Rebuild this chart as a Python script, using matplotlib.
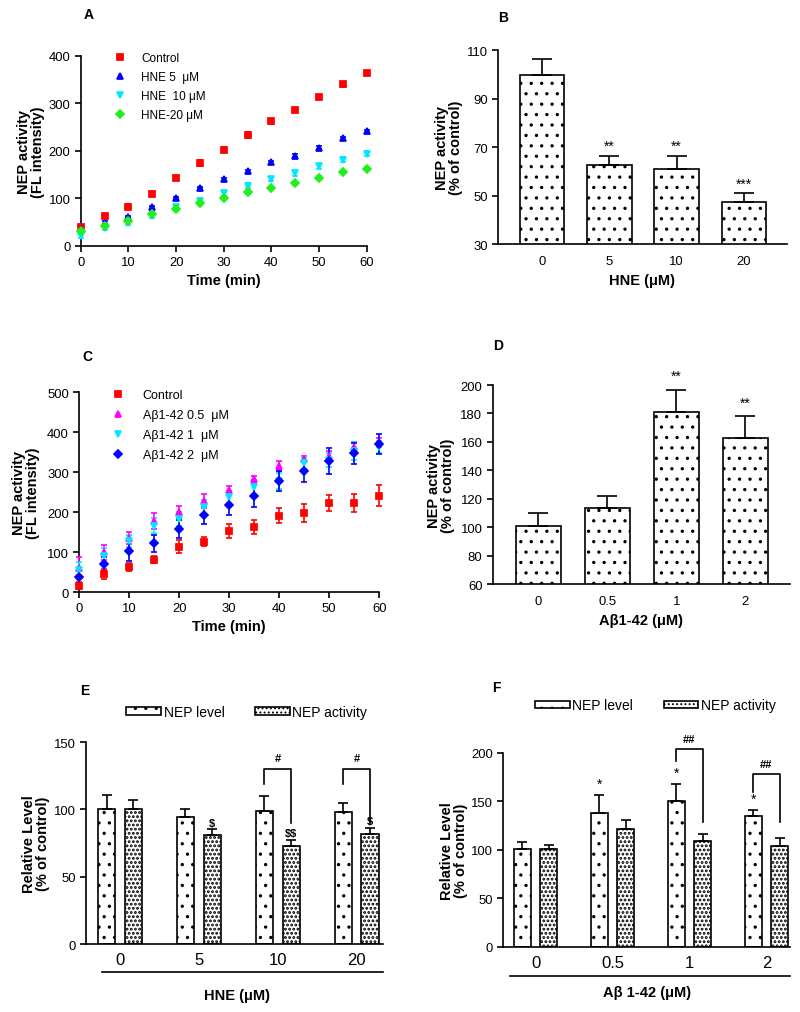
import numpy as np
import matplotlib
matplotlib.use("Agg")
import matplotlib.pyplot as plt
from matplotlib.lines import Line2D
from matplotlib.patches import Patch

# the figure is drawn at 125 dpi so that the dotted hatches get the right spacing;
# every size below is given as if at 100 dpi and scaled by K
DPI = 125
K = 100 / DPI

plt.rcParams['font.family'] = ['Liberation Sans', 'DejaVu Sans']
plt.rcParams['hatch.linewidth'] = 0.7
plt.rcParams['axes.linewidth'] = 1.2 * K
plt.rcParams['xtick.major.width'] = 1.2 * K
plt.rcParams['ytick.major.width'] = 1.2 * K
plt.rcParams['xtick.major.size'] = 4 * K
plt.rcParams['ytick.major.size'] = 4 * K
plt.rcParams['xtick.major.pad'] = 3.5 * K
plt.rcParams['ytick.major.pad'] = 3.5 * K

# ---- panel A: NEP activity time course with HNE
time = [0, 5, 10, 15, 20, 25, 30, 35, 40, 45, 50, 55, 60]
a_control = [39, 63, 83, 109, 143, 175, 203, 233, 262, 287, 314, 340, 365]
a_control_err = [6, 5, 5, 4, 4, 6, 6, 6, 5, 4, 4, 5, 4]
a_hne5 = [35, 49, 61, 81, 101, 122, 140, 157, 176, 190, 207, 227, 241]
a_hne5_err = [3, 3, 3, 3, 3, 3, 3, 3, 3, 3, 3, 3, 3]
a_hne10 = [21, 37, 48, 63, 81, 95, 111, 127, 141, 153, 168, 182, 194]
a_hne10_err = [4, 4, 4, 4, 4, 5, 5, 5, 5, 5, 5, 5, 5]
a_hne20 = [32, 42, 53, 68, 78, 90, 100, 113, 123, 132, 144, 155, 163]
a_hne20_err = [3, 3, 3, 3, 3, 3, 3, 3, 3, 3, 3, 3, 3]
a_labels = ['Control', 'HNE 5  μM', 'HNE  10 μM', 'HNE-20 μM']

# ---- panel B
hne_doses = ['0', '5', '10', '20']
b_activity = [99.7, 62.5, 60.8, 47.2]
b_err = [6.5, 3.8, 5.6, 3.8]
b_sig = ['', '**', '**', '***']

# ---- panel C: NEP activity time course with Abeta
c_control = [16, 45, 62, 81, 113, 126, 153, 163, 191, 198, 222, 222, 241]
c_control_err = [8, 12, 10, 8, 16, 12, 18, 17, 19, 23, 20, 23, 27]
c_ab05 = [60, 99, 135, 177, 199, 228, 255, 283, 315, 332, 341, 362, 374]
c_ab05_err = [27, 19, 16, 20, 17, 17, 10, 8, 12, 8, 12, 12, 12]
c_ab1 = [55, 91, 128, 166, 182, 212, 237, 262, 278, 322, 330, 353, 363]
c_ab1_err = [20, 18, 15, 18, 18, 17, 15, 18, 20, 15, 18, 22, 15]
c_ab2 = [38, 70, 103, 122, 157, 193, 218, 241, 277, 302, 328, 347, 370]
c_ab2_err = [17, 17, 25, 21, 23, 23, 25, 28, 25, 27, 32, 26, 26]
c_labels = ['Control', 'Aβ1-42 0.5  μM', 'Aβ1-42 1  μM', 'Aβ1-42 2  μM']

# ---- panel D
ab_doses = ['0', '0.5', '1', '2']
d_activity = [100.6, 113.5, 180.8, 163.0]
d_err = [9.4, 8.5, 15.7, 15.0]
d_sig = ['', '', '**', '**']

# ---- panel E
e_level = [100.4, 94, 99, 98]
e_level_err = [10.6, 6, 11, 7]
e_act = [100, 80.6, 72.6, 81.8]
e_act_err = [7, 4.9, 5, 4.5]
e_act_sig = ['', '\\$', '\\$\\$', '\\$']
e_bracket_group = [2, 3]
e_bracket_top = [130, 130]
e_bracket_left = [119, 119]
e_bracket_right = [90, 90]
e_bracket_sig = ['#', '#']

# ---- panel F
f_level = [101, 138, 150, 135.5]
f_level_err = [7, 19, 18, 5.5]
f_act = [101, 122, 109, 104]
f_act_err = [4, 9, 7, 8]
f_level_sig = ['', '*', '*', '*']
f_bracket_group = [2, 3]
f_bracket_top = [204, 178]
f_bracket_left = [192, 160]
f_bracket_right = [129, 129]
f_bracket_sig = ['##', '##']

TICK_FS = 9.5 * K
LAB_FS = 10.5 * K
LW = 1.2 * K
DENSE = '.....'

fig = plt.figure(figsize=(800 / DPI, 1013 / DPI), dpi=DPI)


def style_axes(ax):
    ax.spines['top'].set_visible(False)
    ax.spines['right'].set_visible(False)
    ax.tick_params(direction='out', labelsize=TICK_FS)


def panel_label(ax, s, x, y):
    ax.text(x, y, s, transform=ax.transAxes, fontsize=10 * K, fontweight='bold',
            ha='left', va='center')


def time_course(ax, series, colors, markers, labels, ylim, yticks):
    handles = []
    for (vals, err), c, m, lab in zip(series, colors, markers, labels):
        ax.errorbar(time, vals, yerr=err, fmt=m, color=c, ecolor=c, ms=4 * K,
                    capsize=2 * K, elinewidth=LW, capthick=LW, clip_on=False, zorder=3)
        handles.append(Line2D([], [], ls='none', marker=m, color=c, ms=4 * K))
    ax.set_xlim(0, 60)
    ax.set_ylim(*ylim)
    ax.set_xticks(range(0, 61, 10))
    ax.set_yticks(yticks)
    ax.set_xlabel('Time (min)', fontsize=LAB_FS, fontweight='bold', labelpad=3 * K)
    ax.set_ylabel('NEP activity\n(FL intensity)', fontsize=LAB_FS, fontweight='bold',
                  linespacing=1.0)
    return handles


def bar_panel(ax, vals, err, sig, ticks, ylim, yticks, xlabel, sig_offset):
    x = np.arange(len(vals))
    ax.bar(x, vals, width=0.66, color='white', edgecolor='black', lw=LW, hatch='..')
    ax.errorbar(x, vals, yerr=[np.zeros(len(err)), err], fmt='none', ecolor='black',
                elinewidth=LW, capsize=7.5 * K, capthick=LW)
    for xi, v, e, s in zip(x, vals, err, sig):
        if s:
            ax.annotate(s, (xi, v + e), xytext=(0, sig_offset * K), textcoords='offset points',
                        ha='center', va='bottom', fontsize=10 * K, annotation_clip=False)
    ax.set_xticks(x)
    ax.set_xticklabels(ticks)
    ax.set_ylim(*ylim)
    ax.set_yticks(yticks)
    ax.set_xlim(-0.66, 3.64)
    ax.tick_params(axis='x', length=0, pad=8 * K)
    ax.set_xlabel(xlabel, fontsize=LAB_FS, fontweight='bold', labelpad=4 * K)
    ax.set_ylabel('NEP activity\n(% of control)', fontsize=LAB_FS, fontweight='bold',
                  linespacing=1.0)


def group_panel(ax, level, level_err, act, act_err, ticks, ylim, yticks):
    x = np.arange(len(level))
    off, w = 0.17, 0.22
    ax.bar(x - off, level, width=w, color='white', edgecolor='black', lw=LW, hatch='..')
    with plt.rc_context({'hatch.linewidth': 1.1}):
        ax.bar(x + off, act, width=w, color='white', edgecolor='black', lw=LW, hatch=DENSE)
        act_patch = Patch(facecolor='white', edgecolor='black', lw=LW, hatch=DENSE,
                          label='NEP activity')
    ax.errorbar(x - off, level, yerr=[np.zeros(4), level_err], fmt='none', ecolor='black',
                elinewidth=LW, capsize=3.5 * K, capthick=LW)
    ax.errorbar(x + off, act, yerr=[np.zeros(4), act_err], fmt='none', ecolor='black',
                elinewidth=LW, capsize=3.5 * K, capthick=LW)
    ax.set_xticks(x)
    ax.set_xticklabels(ticks, fontsize=12 * K)
    ax.tick_params(axis='x', length=0, pad=6 * K)
    ax.set_ylim(*ylim)
    ax.set_yticks(yticks)
    ax.set_ylabel('Relative Level\n(% of control)', fontsize=LAB_FS, fontweight='bold',
                  linespacing=1.0)
    handles = [Patch(facecolor='white', edgecolor='black', lw=LW, hatch='..', label='NEP level'),
               act_patch]
    return x, off, handles


def brackets(ax, x, off, groups, top, left, right, sig):
    for g, t, l, r, s in zip(groups, top, left, right, sig):
        ax.plot([x[g] - off, x[g] - off, x[g] + off, x[g] + off], [l, t, t, r],
                color='black', lw=LW, clip_on=False)
        ax.annotate(s, (x[g], t), xytext=(0, 4 * K), textcoords='offset points',
                    ha='center', va='bottom', fontsize=8 * K, fontweight='bold',
                    annotation_clip=False)


# ---- A
axA = fig.add_axes([0.101, 0.7562, 0.3575, 0.1876])
style_axes(axA)
hA = time_course(axA,
                 [(a_control, a_control_err), (a_hne5, a_hne5_err),
                  (a_hne10, a_hne10_err), (a_hne20, a_hne20_err)],
                 ['#ff0000', '#0000ff', '#00e8ff', '#22ee22'], ['s', '^', 'v', 'D'],
                 a_labels, (0, 400), range(0, 401, 100))
axA.yaxis.set_label_coords(-0.126, 0.5)
axA.legend(hA, a_labels, loc='upper left', bbox_to_anchor=(0.08, 1.045), frameon=False,
           fontsize=8.5 * K, handletextpad=0.8, labelspacing=0.58, borderaxespad=0)
panel_label(axA, 'A', 0.01, 1.22)

# ---- B
axB = fig.add_axes([0.6225, 0.7581, 0.361, 0.1915])
style_axes(axB)
bar_panel(axB, b_activity, b_err, b_sig, hne_doses, (30, 110), range(30, 111, 20),
          'HNE (μM)', 2)
axB.yaxis.set_label_coords(-0.121, 0.5)
panel_label(axB, 'B', 0.0, 1.17)

# ---- C
axC = fig.add_axes([0.099, 0.4146, 0.375, 0.1974])
style_axes(axC)
hC = time_course(axC,
                 [(c_control, c_control_err), (c_ab05, c_ab05_err),
                  (c_ab1, c_ab1_err), (c_ab2, c_ab2_err)],
                 ['#ff0000', '#ff00ff', '#00e8ff', '#0000ff'], ['s', '^', 'v', 'D'],
                 c_labels, (0, 500), range(0, 501, 100))
axC.yaxis.set_label_coords(-0.13, 0.5)
axC.legend(hC, c_labels, loc='upper left', bbox_to_anchor=(0.07, 1.04), frameon=False,
           fontsize=9 * K, handletextpad=1.0, labelspacing=0.65, borderaxespad=0)
panel_label(axC, 'C', 0.01, 1.18)

# ---- D
axD = fig.add_axes([0.616, 0.4225, 0.371, 0.1964])
style_axes(axD)
bar_panel(axD, d_activity, d_err, d_sig, ab_doses, (60, 200), range(60, 201, 20),
          'Aβ1-42 (μM)', 5)
axD.yaxis.set_label_coords(-0.128, 0.5)
panel_label(axD, 'D', 0.0, 1.2)

# ---- E
axE = fig.add_axes([0.1075, 0.0671, 0.371, 0.1994])
style_axes(axE)
xE, offE, hE = group_panel(axE, e_level, e_level_err, e_act, e_act_err, hne_doses,
                           (0, 150), range(0, 151, 50))
axE.set_xlim(-0.43, 3.33)
for xi, v, e, s in zip(xE, e_act, e_act_err, e_act_sig):
    if s:
        axE.annotate(s, (xi + offE, v + e), xytext=(0, 1 * K), textcoords='offset points',
                     ha='center', va='bottom', fontsize=8 * K, fontweight='bold')
brackets(axE, xE, offE, e_bracket_group, e_bracket_top, e_bracket_left, e_bracket_right,
         e_bracket_sig)
axE.plot([0.053, 1.0], [-0.139, -0.139], color='black', lw=LW, transform=axE.transAxes,
         clip_on=False)
axE.text(0.51, -0.25, 'HNE (μM)', transform=axE.transAxes, ha='center', va='center',
         fontsize=LAB_FS, fontweight='bold')
axE.yaxis.set_label_coords(-0.121, 0.5)
axE.legend(handles=hE, loc='center left', bbox_to_anchor=(0.135, 1.15), ncol=2,
           frameon=False, fontsize=10 * K, handlelength=2.5, handleheight=0.5,
           handletextpad=0.2, columnspacing=2.2, borderaxespad=0, borderpad=0)
panel_label(axE, 'E', -0.02, 1.26)

# ---- F
axF = fig.add_axes([0.629, 0.0642, 0.359, 0.1915])
style_axes(axF)
xF, offF, hF = group_panel(axF, f_level, f_level_err, f_act, f_act_err, ab_doses,
                           (0, 200), range(0, 201, 50))
axF.set_xlim(-0.42, 3.31)
for xi, v, e, s in zip(xF, f_level, f_level_err, f_level_sig):
    if s:
        axF.annotate(s, (xi - offF, v + e), xytext=(0, 3 * K), textcoords='offset points',
                     ha='center', va='bottom', fontsize=10 * K)
brackets(axF, xF, offF, f_bracket_group, f_bracket_top, f_bracket_left, f_bracket_right,
         f_bracket_sig)
axF.plot([0.024, 1.0], [-0.149, -0.149], color='black', lw=LW, transform=axF.transAxes,
         clip_on=False)
axF.text(0.5, -0.232, 'Aβ 1-42 (μM)', transform=axF.transAxes, ha='center', va='center',
         fontsize=LAB_FS, fontweight='bold')
axF.yaxis.set_label_coords(-0.122, 0.5)
axF.legend(handles=hF, loc='center left', bbox_to_anchor=(0.11, 1.245), ncol=2,
           frameon=False, fontsize=10 * K, handlelength=2.5, handleheight=0.5,
           handletextpad=0.2, columnspacing=2.2, borderaxespad=0, borderpad=0)
panel_label(axF, 'F', -0.04, 1.34)

fig.savefig('out.png', dpi=DPI)
